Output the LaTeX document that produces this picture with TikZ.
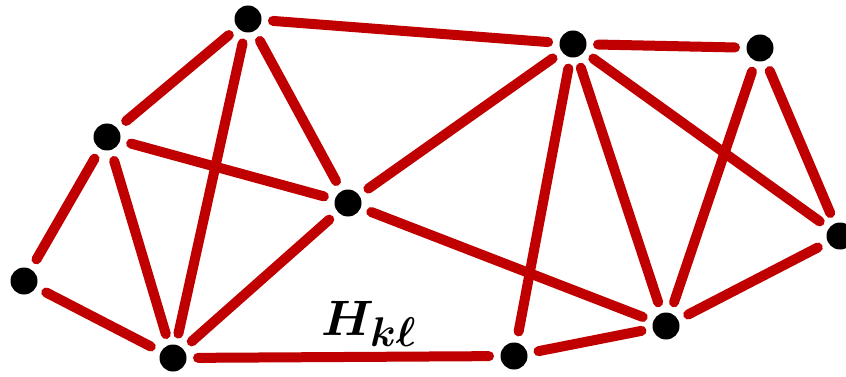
\documentclass[tikz,border=0pt]{standalone}
\usepackage{amsmath,amssymb,bm,graphicx}
\usepackage{tikz}
\usetikzlibrary{positioning}
\definecolor{edgeRed}{HTML}{C00000}
\tikzset{
  vtx/.style={circle, fill=black, inner sep=0pt, minimum size=27pt},
  lnk/.style={draw=edgeRed, line width=10pt, line cap=round, shorten <=25pt, shorten >=25pt},
  lbl/.style={font=\Huge, inner sep=0pt},
}

\begin{document}
\begin{tikzpicture}[x=1pt, y=-1pt]
  \useasboundingbox (0,0) rectangle (846,377);
  % vertices
  \node[vtx] (v1) at (248,19) {};
  \node[vtx] (v2) at (573,44) {};
  \node[vtx] (v3) at (760,48) {};
  \node[vtx] (v4) at (107,137) {};
  \node[vtx] (v5) at (348,203) {};
  \node[vtx] (v6) at (840,236) {};
  \node[vtx] (v7) at (24,281) {};
  \node[vtx] (v8) at (666,326) {};
  \node[vtx] (v9) at (173,358) {};
  \node[vtx] (v10) at (514,356) {};
  \node[lbl] (hkl) at (369,324) {\scalebox{2}{$\bm{H_{k\ell}}$}};
  % edges
  \foreach \ea/\eb in {v1/v2,v2/v3,v1/v4,v1/v5,v1/v9,v4/v5,v4/v7,v4/v9,v7/v9,v9/v5,v9/v10,v10/v8,v10/v2,v5/v2,v5/v8,v2/v8,v2/v6,v3/v8,v3/v6,v8/v6}
    {\draw[lnk] (\ea.center) -- (\eb.center);}
\end{tikzpicture}
\end{document}
